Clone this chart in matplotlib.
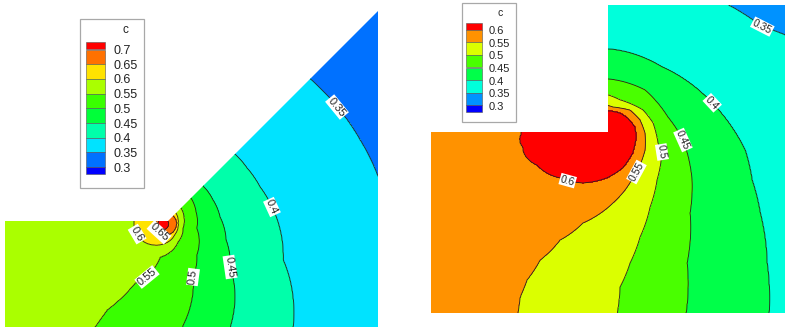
import numpy as np
import matplotlib
matplotlib.use("Agg")
import matplotlib.pyplot as plt
from matplotlib.patches import Polygon, Rectangle

plt.rcParams["font.family"] = ["Liberation Sans", "DejaVu Sans"]

# ---------------------------------------------------------------------------
# Left model (corner + 45 deg wedge). Each contour line of c is stored as its
# distance from the pole at a set of angles (deg, counter-clockwise, px units).
# ---------------------------------------------------------------------------
left_ticks = [0.3, 0.35, 0.4, 0.45, 0.5, 0.55, 0.6, 0.65, 0.7]
left_levels = [0.3, 0.35, 0.4, 0.45, 0.5, 0.55, 0.6, 0.65, 0.7, 0.75]
left_pole = (163, 223)

l30_ang = [-180, 0]
l30_rad = [1000, 1000]
l35_ang = [-180, -60, -30, 0, 10, 12.1, 22.8, 33.7, 44.4, 46, 100]
l35_rad = [900, 900, 500, 400, 260, 219.9, 213.8, 209.1, 205.8, 205.8, 800]
l40_ang = [-180, -60, -42, -38.7, -17.1, 8.4, 20.4, 33.2, 43.8, 46, 100]
l40_rad = [700, 600, 250, 166.5, 125.6, 110, 103.5, 100.4, 99.7, 99.7, 700]
l45_ang = [-180, -90, -60, -57.2, -33.3, -15.1, 6, 24.7, 42.8, 46, 100]
l45_rad = [600, 600, 200, 123.7, 80.2, 65.3, 57.3, 55, 54.5, 54.5, 600]
l50_ang = [-180, -120, -83, -79.6, -61, -43.5, -8.9, 18.4, 41.8, 46, 100]
l50_rad = [500, 500, 200, 105.7, 61.8, 46.5, 34.1, 34.8, 37.5, 37.5, 500]
l55_ang = [-180, -130, -124.5, -123.2, -122.8, -115, -106.5, -95, -51.7, -14, 13.4, 39.8, 46, 100]
l55_rad = [400, 400, 250, 124.2, 103.5, 66.2, 56.3, 34.1, 24.2, 20.6, 21.6, 23.4, 23.4, 400]
l60_ang = [-180, -135, -90, -45, 0, 45, 90, 135]
l60_rad = [29, 26.4, 21.1, 16.5, 15, 16.5, 21.1, 26.4]
l65_ang = [-180, -135, -90, -45, 0, 45, 90, 135]
l65_rad = [7, 8, 12, 13.5, 14, 12, 9, 7.5]
l70_ang = [-180, -90, 0, 90]
l70_rad = [5, 7, 5.5, 4]
l75_ang = [-180, 0]
l75_rad = [0, 0]

left_tables = [(l30_ang, l30_rad), (l35_ang, l35_rad), (l40_ang, l40_rad),
               (l45_ang, l45_rad), (l50_ang, l50_rad), (l55_ang, l55_rad),
               (l60_ang, l60_rad), (l65_ang, l65_rad), (l70_ang, l70_rad),
               (l75_ang, l75_rad)]

# ---------------------------------------------------------------------------
# Right model (rectangle with the top-left corner cut away)
# ---------------------------------------------------------------------------
right_ticks = [0.3, 0.35, 0.4, 0.45, 0.5, 0.55, 0.6]
right_levels = [0.3, 0.35, 0.4, 0.45, 0.5, 0.55, 0.6, 0.64]
right_pole = (530, 135)

r30_ang = [-180, 0]
r30_rad = [1200, 1200]
r35_ang = [-180, 0, 10, 18, 21.4, 25, 33.3, 40, 60, 90, 150]
r35_rad = [900, 900, 600, 320, 273.9, 255.9, 236.9, 260, 300, 300, 500]
r40_ang = [-180, -50, -40, -36.7, -28.4, -18.7, -11.5, -4, 10, 27.3, 47.8, 60, 90, 150, 170]
r40_rad = [700, 700, 400, 298, 269.4, 242.9, 226.5, 215.5, 184.8, 148.5, 116, 105, 100, 140, 350]
r45_ang = [-180, -70, -52, -48.8, -39.2, -26, -15.5, -1.9, 7.4, 21.4, 35.7, 45, 90, 150, 170]
r45_rad = [600, 600, 300, 236.7, 202.6, 178, 168.1, 153, 139, 123.5, 96, 90, 85, 120, 300]
r50_ang = [-180, -90, -70, -63.9, -59.4, -52, -42.8, -31, -19.5, -7.3, -3.6, 5.6, 12.5,
           21.3, 27.2, 35, 90, 150, 170]
r50_rad = [500, 500, 300, 198.1, 176.6, 162.4, 150, 140, 134.7, 133, 128.2, 123.6, 115.7,
           96.6, 87.7, 75, 70, 100, 250]
r55_ang = [-180, -100, -95, -93.9, -93.5, -91.2, -85.4, -74.1, -58.9, -39.3, -30.1, -22.2,
           -15.3, -7.4, 1, 7.8, 14, 18.6, 25, 40, 90, 150, 170]
r55_rad = [400, 400, 300, 178.4, 162.3, 145, 125.4, 109.2, 102.7, 107.3, 109.8, 111.5,
           114, 116, 115, 111, 103, 87.6, 75, 60, 60, 80, 200]
r60_ang = [-180, -120.3, -76.9, -55.1, -42.2, -29.2, -19.5, -9.9, -0.9, 4.5, 9.8,
           13.9, 16.8, 22, 60, 158]
r60_rad = [9, 13.9, 30.8, 52.4, 71.5, 88.2, 98.7, 104.6, 106.7, 105.3, 99.5,
           92.7, 84.3, 62, 22, 9]
r64_ang = [-180, 0]
r64_rad = [0, 0]

right_tables = [(r30_ang, r30_rad), (r35_ang, r35_rad), (r40_ang, r40_rad),
                (r45_ang, r45_rad), (r50_ang, r50_rad), (r55_ang, r55_rad),
                (r60_ang, r60_rad), (r64_ang, r64_rad)]

# band colours, lowest band first
left_colors = ["#0000ff", "#0071ff", "#00e3ff", "#00ffaa", "#00ff39",
               "#39ff00", "#aaff00", "#ffe300", "#ff7100", "#ff0000"]
right_colors = ["#0000ff", "#0092ff", "#00ffdb", "#00ff49",
                "#49ff00", "#dbff00", "#ff9200", "#ff0000"]


def build_field(xx, yy, pole, tables, levels):
    u = xx - pole[0]
    v = pole[1] - yy
    r = np.hypot(u, v)
    th = np.degrees(np.arctan2(v, u))
    bounds = np.stack([np.interp(th, a, rad, period=360) for a, rad in tables])
    n = len(levels)
    k = (r[None] <= bounds).sum(axis=0) - 1
    k = np.clip(k, 0, n - 2)
    b0 = np.take_along_axis(bounds, k[None], 0)[0]
    b1 = np.take_along_axis(bounds, (k + 1)[None], 0)[0]
    frac = np.clip((b0 - r) / np.maximum(b0 - b1, 1e-9), 0, 1)
    lev = np.asarray(levels)
    return lev[k] + (lev[k + 1] - lev[k]) * frac


def draw_panel(ax, xs, ys, pole, tables, levels, ticks, colors, outline,
               label_pos, label_size):
    xx, yy = np.meshgrid(xs, ys)
    zz = build_field(xx, yy, pole, tables, levels)
    clip = Polygon(outline, closed=True, transform=ax.transData)
    fill = ax.contourf(xx, yy, zz, levels=[0.0] + ticks + [1.0], colors=colors)
    fill.set_clip_path(clip)
    lines = ax.contour(xx, yy, zz, levels=ticks, colors="#202020", linewidths=0.6)
    lines.set_clip_path(clip)
    labels = ax.clabel(lines, inline=False, fontsize=label_size,
                       fmt=lambda val: f"{val:g}", manual=label_pos)
    for t in labels:
        t.set_bbox(dict(facecolor="white", edgecolor="none",
                        boxstyle="square,pad=0.08"))


def draw_legend(ax, box, title_xy, x0, x1, first, step, end_h, ticks, colors,
                label_x, size):
    ax.add_patch(Rectangle((box[0], box[1]), box[2] - box[0], box[3] - box[1],
                           facecolor="white", edgecolor="#a8a8a8", linewidth=0.9))
    ax.text(title_xy[0], title_xy[1], "c", fontsize=size - 0.5, ha="center",
            va="center", color="#222222")
    n = len(ticks)
    edges = [first - end_h] + [first + i * step for i in range(n)] + \
            [first + (n - 1) * step + end_h]
    for i, col in enumerate(colors[::-1]):
        ax.bar((x0 + x1) / 2, edges[i + 1] - edges[i], bottom=edges[i],
               width=x1 - x0, color=col, edgecolor="#555555", linewidth=0.4)
    for i, val in enumerate(ticks[::-1]):
        ax.text(label_x, first + i * step + 1.5, f"{val:g}", fontsize=size,
                ha="left", va="center", color="#222222")


fig = plt.figure(figsize=(7.85, 3.27), dpi=100)
ax = fig.add_axes([0, 0, 1, 1])
ax.set_xlim(0, 785)
ax.set_ylim(327, 0)
ax.axis("off")

draw_panel(ax, np.arange(3, 381, 1.0), np.arange(6, 330, 1.0), left_pole,
           left_tables, left_levels, left_ticks, left_colors,
           [(5, 221), (168, 221), (378, 11), (378, 327), (5, 327)],
           [(337, 107), (272, 207), (230, 267), (193, 277), (147, 277),
            (133, 238), (157, 234)], 8)

draw_panel(ax, np.arange(429, 788, 1.0), np.arange(3, 316, 1.0), right_pole,
           right_tables, right_levels, right_ticks, right_colors,
           [(431, 132), (608, 132), (608, 5), (785, 5), (785, 313), (431, 313)],
           [(762, 27), (712, 103), (683, 140), (662, 152), (638, 173),
            (567, 183)], 7.5)

draw_legend(ax, (80, 19, 144, 188), (125, 30), 86, 105, 49.5, 14.7, 7.3,
            left_ticks, left_colors, 113, 9)
draw_legend(ax, (462, 3, 516, 122), (500, 13), 466, 482, 29.7, 12.6, 7.0,
            right_ticks, right_colors, 489, 8)

fig.savefig("out.png", dpi=100, facecolor="white")
